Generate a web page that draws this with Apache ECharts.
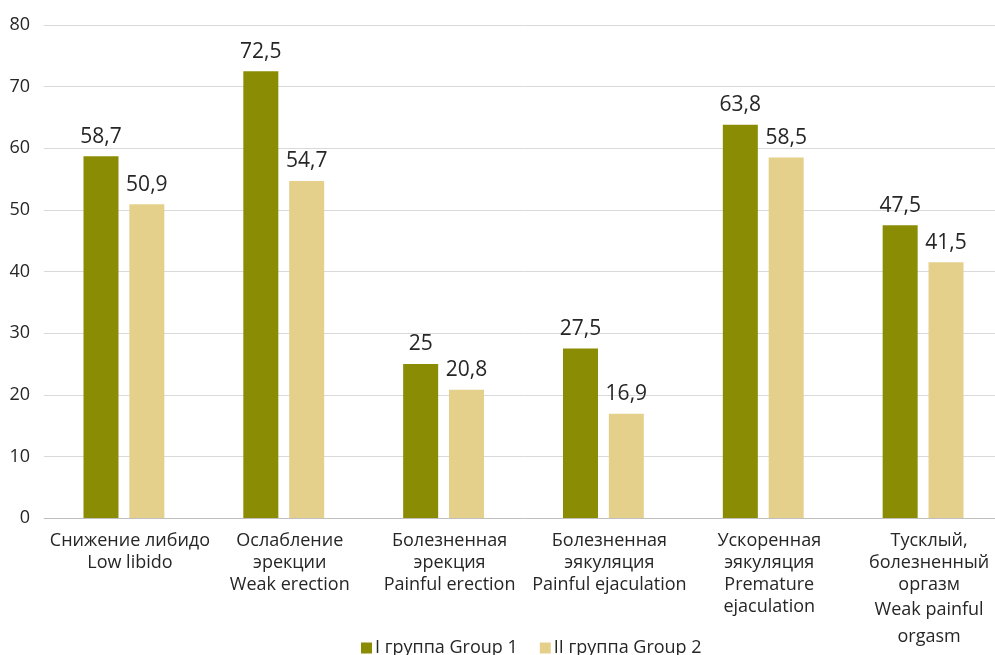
<!DOCTYPE html>
<html>
<head>
<meta charset="utf-8">
<style>
  html, body { margin: 0; padding: 0; background: #ffffff; overflow: hidden; }
  #chart { width: 1005px; height: 655px; }
</style>
<script src="https://cdn.jsdelivr.net/npm/echarts@6/dist/echarts.min.js"></script>
</head>
<body>
<div id="chart"></div>
<script>
// Sexual dysfunction symptoms, % of patients, by group
const categories = [
  'Снижение либидо\nLow libido',
  'Ослабление\nэрекции\nWeak erection',
  'Болезненная\nэрекция\nPainful erection',
  'Болезненная\nэякуляция\nPainful ejaculation',
  'Ускоренная\nэякуляция\nPremature\nejaculation',
  'Тусклый,\nболезненный\nоргазм|Weak painful\norgasm'
];
const group1Name = 'I группа Group 1';
const group2Name = 'II группа Group 2';
const group1Values = [58.7, 72.5, 25, 27.5, 63.8, 47.5];
const group2Values = [50.9, 54.7, 20.8, 16.9, 58.5, 41.5];
const yTicks = [0, 10, 20, 30, 40, 50, 60, 70, 80];

const FONT = 'Open Sans, Liberation Sans, sans-serif';
const GREEN = '#8a8c04';
const BEIGE = '#e5d08b';

const chart = echarts.init(document.getElementById('chart'), null, { renderer: 'canvas' });

const valueLabel = {
  show: true,
  position: 'top',
  distance: 9,
  color: '#262626',
  fontFamily: FONT,
  fontSize: 21,
  formatter: p => String(p.value).replace('.', ',')
};

chart.setOption({
  animation: false,
  backgroundColor: '#ffffff',
  textStyle: { fontFamily: FONT },
  grid: { left: 44, top: 25, width: 959, height: 493, containLabel: false },
  legend: {
    top: 634,
    left: 356,
    itemWidth: 11,
    itemHeight: 11,
    itemGap: 22,
    icon: 'rect',
    textStyle: { fontFamily: FONT, fontSize: 18, color: '#262626', padding: [0, 0, 0, -2] },
    data: [group1Name, group2Name]
  },
  xAxis: {
    type: 'category',
    data: categories,
    axisTick: { show: false },
    axisLine: { lineStyle: { color: '#bfbfbf', width: 1 } },
    axisLabel: {
      interval: 0,
      margin: 12,
      color: '#262626',
      fontFamily: FONT,
      fontSize: 18,
      lineHeight: 22,
      verticalAlign: 'top',
      padding: [0, 0, 0, 12],
      formatter: v => {
        const parts = v.split('|');
        if (parts.length === 1) return '{a|' + v.split('\n').join('}\n{a|') + '}';
        const first = parts[0].split('\n').map(s => '{a|' + s + '}').join('\n');
        const second = parts[1].split('\n').map(s => '{b|' + s + '}').join('\n');
        return first + '\n' + second;
      },
      rich: {
        a: { fontFamily: FONT, fontSize: 18, color: '#262626', lineHeight: 22 },
        b: { fontFamily: FONT, fontSize: 18, color: '#262626', lineHeight: 27 }
      }
    }
  },
  yAxis: {
    type: 'value',
    min: yTicks[0],
    max: yTicks[yTicks.length - 1],
    interval: 10,
    axisLine: { show: false },
    axisTick: { show: false },
    axisLabel: { color: '#262626', fontFamily: FONT, fontSize: 18, margin: 14 },
    splitLine: { lineStyle: { color: '#d9d9d9', width: 1 } }
  },
  series: [
    {
      name: group1Name,
      type: 'bar',
      data: group1Values,
      barWidth: 35,
      barGap: '31%',
      itemStyle: { color: GREEN },
      label: valueLabel
    },
    {
      name: group2Name,
      type: 'bar',
      data: group2Values,
      barWidth: 35,
      itemStyle: { color: BEIGE },
      label: valueLabel
    }
  ]
});
</script>
</body>
</html>
